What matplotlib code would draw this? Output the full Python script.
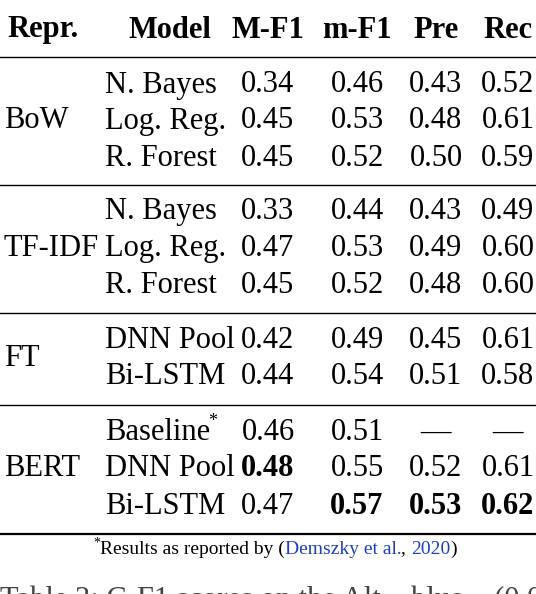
import matplotlib
matplotlib.use("Agg")
import matplotlib.pyplot as plt
from matplotlib.lines import Line2D

plt.rcParams["font.family"] = ["Liberation Serif", "DejaVu Serif"]

W, H = 536, 594
headers = ["Repr.", "Model", "M-F1", "m-F1", "Pre", "Rec"]
groups = ["BoW", "TF-IDF", "FT", "BERT"]
models = [
    ["N. Bayes", "Log. Reg.", "R. Forest"],
    ["N. Bayes", "Log. Reg.", "R. Forest"],
    ["DNN Pool", "Bi-LSTM"],
    ["Baseline", "DNN Pool", "Bi-LSTM"],
]
scores = [
    [["0.34", "0.46", "0.43", "0.52"], ["0.45", "0.53", "0.48", "0.61"], ["0.45", "0.52", "0.50", "0.59"]],
    [["0.33", "0.44", "0.43", "0.49"], ["0.47", "0.53", "0.49", "0.60"], ["0.45", "0.52", "0.48", "0.60"]],
    [["0.42", "0.49", "0.45", "0.61"], ["0.44", "0.54", "0.51", "0.58"]],
    [["0.46", "0.51", "—", "—"], ["0.48", "0.55", "0.52", "0.61"], ["0.47", "0.57", "0.53", "0.62"]],
]
bold = {(3, 1, 0), (3, 2, 1), (3, 2, 2), (3, 2, 3)}

row_y = [[85, 121, 158], [212, 249, 286], [340, 377], [432, 469, 506]]
group_y = [121, 249, 358, 469]
rule_y = [(57, 1.0), (185, 1.0), (313, 1.0), (405, 1.0), (534, 1.6)]
col_x = [268, 357, 436, 508]

fig = plt.figure(figsize=(W / 100, H / 100), dpi=100)


def px(x, y):
    return x / W, 1 - y / H


fs = 22
fig.text(*px(7, 30), headers[0], fontsize=fs, weight="bold", va="center", ha="left")
fig.text(*px(170, 30), headers[1], fontsize=fs, weight="bold", va="center", ha="center")
for x, h in zip(col_x, headers[2:]):
    fig.text(*px(x, 30), h, fontsize=fs, weight="bold", va="center", ha="center")

for g, name in enumerate(groups):
    fig.text(*px(4, group_y[g]), name, fontsize=fs, va="center", ha="left")
    for r, m in enumerate(models[g]):
        y = row_y[g][r]
        fig.text(*px(105, y), m, fontsize=fs, va="center", ha="left")
        if m == "Baseline":
            fig.text(*px(208, y - 10), "*", fontsize=13, va="center", ha="left")
        for c, v in enumerate(scores[g][r]):
            w = "bold" if (g, r, c) in bold else "normal"
            fig.text(*px(col_x[c], y), v, fontsize=fs, weight=w, va="center", ha="center")

for y, lw in rule_y:
    fig.add_artist(Line2D([0, 1], [1 - y / H] * 2, color="black", lw=lw))

# footnote
fig.text(*px(93, 543), "*", fontsize=10, va="center", ha="left")
parts = [("Results as reported by (", "black"), ("Demszky et al.", "#1f3fbf"),
         (", ", "black"), ("2020", "#1f3fbf"), (")", "black")]
fig.canvas.draw()
r = fig.canvas.get_renderer()
x = 100
for s, col in parts:
    t = fig.text(*px(x, 549), s, fontsize=14, va="center", ha="left", color=col)
    x += t.get_window_extent(r).width

fig.text(*px(0, 601), "Table 3: C-F1 scores on the Alt... blue... (0.01", fontsize=22,
         va="center", ha="left", color="#444444")

fig.savefig("out.png", dpi=100)
